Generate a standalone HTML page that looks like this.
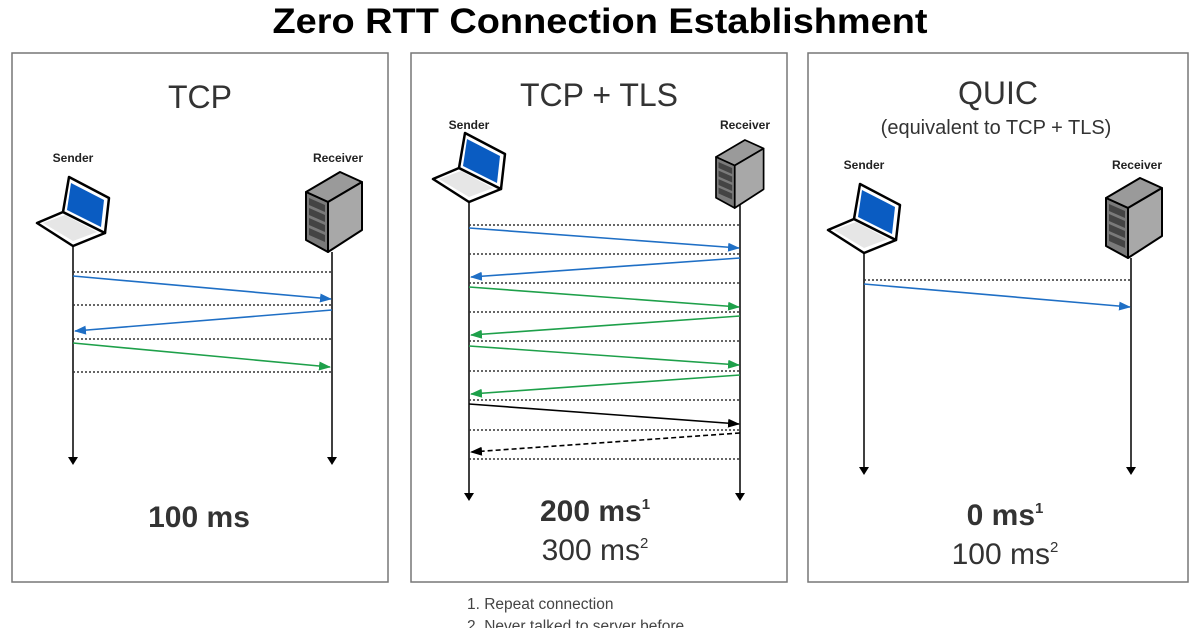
<!DOCTYPE html>
<html><head><meta charset="utf-8"><style>
html,body{margin:0;padding:0;background:#fff;}
svg{display:block;}
text{font-family:"Liberation Sans",sans-serif;}
</style></head><body>
<svg width="1200" height="628" viewBox="0 0 1200 628" xmlns="http://www.w3.org/2000/svg">
<defs>
<symbol id="lap" overflow="visible">
 <polygon points="0,47 26,36 68,57 36,70" fill="#fff" stroke="#000" stroke-width="2.5" stroke-linejoin="round"/>
 <polygon points="6,47 28,39 60,56 36,65" fill="#e6e6e6"/>
 <polygon points="32,1 72,22 68,57 26,36" fill="#fff" stroke="#000" stroke-width="2.5" stroke-linejoin="round"/>
 <polygon points="34,7 67,24 64,51 30,34" fill="#0a5cc2"/>
</symbol>
<symbol id="srv" overflow="visible">
 <polygon points="0,20 34,0 56,10 22,30" fill="#9a9a9a" stroke="#000" stroke-width="2" stroke-linejoin="round"/>
 <polygon points="22,30 56,10 56,58 22,80" fill="#a8a8a8" stroke="#000" stroke-width="2" stroke-linejoin="round"/>
 <polygon points="0,20 22,30 22,80 0,68" fill="#7a7a7a" stroke="#000" stroke-width="2" stroke-linejoin="round"/>
 <polygon points="3,26 19,33 19,40 3,33" fill="#444"/>
 <polygon points="3,36 19,43 19,50 3,43" fill="#444"/>
 <polygon points="3,46 19,53 19,60 3,53" fill="#444"/>
 <polygon points="3,56 19,63 19,70 3,63" fill="#444"/>
</symbol>
<marker id="ab" markerWidth="12" markerHeight="9" refX="11" refY="4.5" orient="auto" markerUnits="userSpaceOnUse"><path d="M0,0 L12,4.5 L0,9 z" fill="#1f6fc5"/></marker>
<marker id="ag" markerWidth="12" markerHeight="9" refX="11" refY="4.5" orient="auto" markerUnits="userSpaceOnUse"><path d="M0,0 L12,4.5 L0,9 z" fill="#1ea04a"/></marker>
<marker id="ak" markerWidth="12" markerHeight="9" refX="11" refY="4.5" orient="auto" markerUnits="userSpaceOnUse"><path d="M0,0 L12,4.5 L0,9 z" fill="#000"/></marker>
</defs>

<text x="600" y="33" text-anchor="middle" font-size="35" font-weight="bold" fill="#000" textLength="655" lengthAdjust="spacingAndGlyphs">Zero RTT Connection Establishment</text>

<rect x="12" y="53" width="376" height="529" fill="none" stroke="#777" stroke-width="1.5"/>
<rect x="411" y="53" width="376" height="529" fill="none" stroke="#777" stroke-width="1.5"/>
<rect x="808" y="53" width="380" height="529" fill="none" stroke="#777" stroke-width="1.5"/>

<g fill="#333" text-anchor="middle">
<text x="200" y="108" font-size="32">TCP</text>
<text x="599" y="106" font-size="32">TCP + TLS</text>
<text x="998" y="104" font-size="32">QUIC</text>
<text x="996" y="134" font-size="20">(equivalent to TCP + TLS)</text>
<text x="199" y="527" font-size="30" font-weight="bold">100 ms</text>
<text x="595" y="521" font-size="30" font-weight="bold">200 ms<tspan font-size="15" dy="-12">1</tspan></text>
<text x="595" y="560" font-size="30">300 ms<tspan font-size="15" dy="-12">2</tspan></text>
<text x="1005" y="525" font-size="30" font-weight="bold">0 ms<tspan font-size="15" dy="-12">1</tspan></text>
<text x="1005" y="564" font-size="30">100 ms<tspan font-size="15" dy="-12">2</tspan></text>
</g>
<g fill="#444" font-size="15.5">
<text x="467" y="609">1. Repeat connection</text>
<text x="467" y="631">2. Never talked to server before</text>
</g>

<g font-size="12" font-weight="bold" fill="#222" text-anchor="middle">
<text x="73" y="162">Sender</text><text x="338" y="162">Receiver</text>
<text x="469" y="129">Sender</text><text x="745" y="129">Receiver</text>
<text x="864" y="169">Sender</text><text x="1137" y="169">Receiver</text>
</g>

<use href="#lap" x="37" y="176"/><use href="#srv" x="306" y="172"/>
<use href="#lap" x="433" y="132"/><g transform="translate(716,140) scale(0.85)"><use href="#srv" x="0" y="0"/></g>
<use href="#lap" x="828" y="183"/><use href="#srv" x="1106" y="178"/>

<g stroke="#000" stroke-width="1.5">
<line x1="73" y1="246" x2="73" y2="460"/><line x1="332" y1="252" x2="332" y2="460"/>
<line x1="469" y1="202" x2="469" y2="496"/><line x1="740" y1="205" x2="740" y2="496"/>
<line x1="864" y1="253" x2="864" y2="470"/><line x1="1131" y1="258" x2="1131" y2="470"/>
</g>
<g fill="#000">
<path d="M68,457 L78,457 L73,465 z"/><path d="M327,457 L337,457 L332,465 z"/>
<path d="M464,493 L474,493 L469,501 z"/><path d="M735,493 L745,493 L740,501 z"/>
<path d="M859,467 L869,467 L864,475 z"/><path d="M1126,467 L1136,467 L1131,475 z"/>
</g>

<g stroke="#333" stroke-width="1.5" stroke-dasharray="2,2">
<line x1="73" y1="272" x2="332" y2="272"/><line x1="73" y1="305" x2="332" y2="305"/>
<line x1="73" y1="339" x2="332" y2="339"/><line x1="73" y1="372" x2="332" y2="372"/>
<line x1="469" y1="225" x2="740" y2="225"/><line x1="469" y1="254" x2="740" y2="254"/>
<line x1="469" y1="283" x2="740" y2="283"/><line x1="469" y1="312" x2="740" y2="312"/>
<line x1="469" y1="341" x2="740" y2="341"/><line x1="469" y1="371" x2="740" y2="371"/>
<line x1="469" y1="400" x2="740" y2="400"/><line x1="469" y1="430" x2="740" y2="430"/>
<line x1="469" y1="459" x2="740" y2="459"/>
<line x1="864" y1="280" x2="1131" y2="280"/>
</g>

<g stroke-width="1.6" fill="none">
<line x1="73" y1="276" x2="331" y2="299" stroke="#1f6fc5" marker-end="url(#ab)"/>
<line x1="332" y1="310" x2="75" y2="331" stroke="#1f6fc5" marker-end="url(#ab)"/>
<line x1="73" y1="343" x2="330" y2="367" stroke="#1ea04a" marker-end="url(#ag)"/>

<line x1="469" y1="228" x2="739" y2="248" stroke="#1f6fc5" marker-end="url(#ab)"/>
<line x1="740" y1="258" x2="471" y2="277" stroke="#1f6fc5" marker-end="url(#ab)"/>
<line x1="469" y1="287" x2="739" y2="307" stroke="#1ea04a" marker-end="url(#ag)"/>
<line x1="740" y1="316" x2="471" y2="335" stroke="#1ea04a" marker-end="url(#ag)"/>
<line x1="469" y1="346" x2="739" y2="365" stroke="#1ea04a" marker-end="url(#ag)"/>
<line x1="740" y1="375" x2="471" y2="394" stroke="#1ea04a" marker-end="url(#ag)"/>
<line x1="469" y1="404" x2="739" y2="424" stroke="#000" marker-end="url(#ak)"/>
<line x1="740" y1="433" x2="471" y2="452" stroke="#000" stroke-dasharray="5,3" marker-end="url(#ak)"/>

<line x1="864" y1="284" x2="1130" y2="307" stroke="#1f6fc5" marker-end="url(#ab)"/>
</g>
</svg>
</body></html>
